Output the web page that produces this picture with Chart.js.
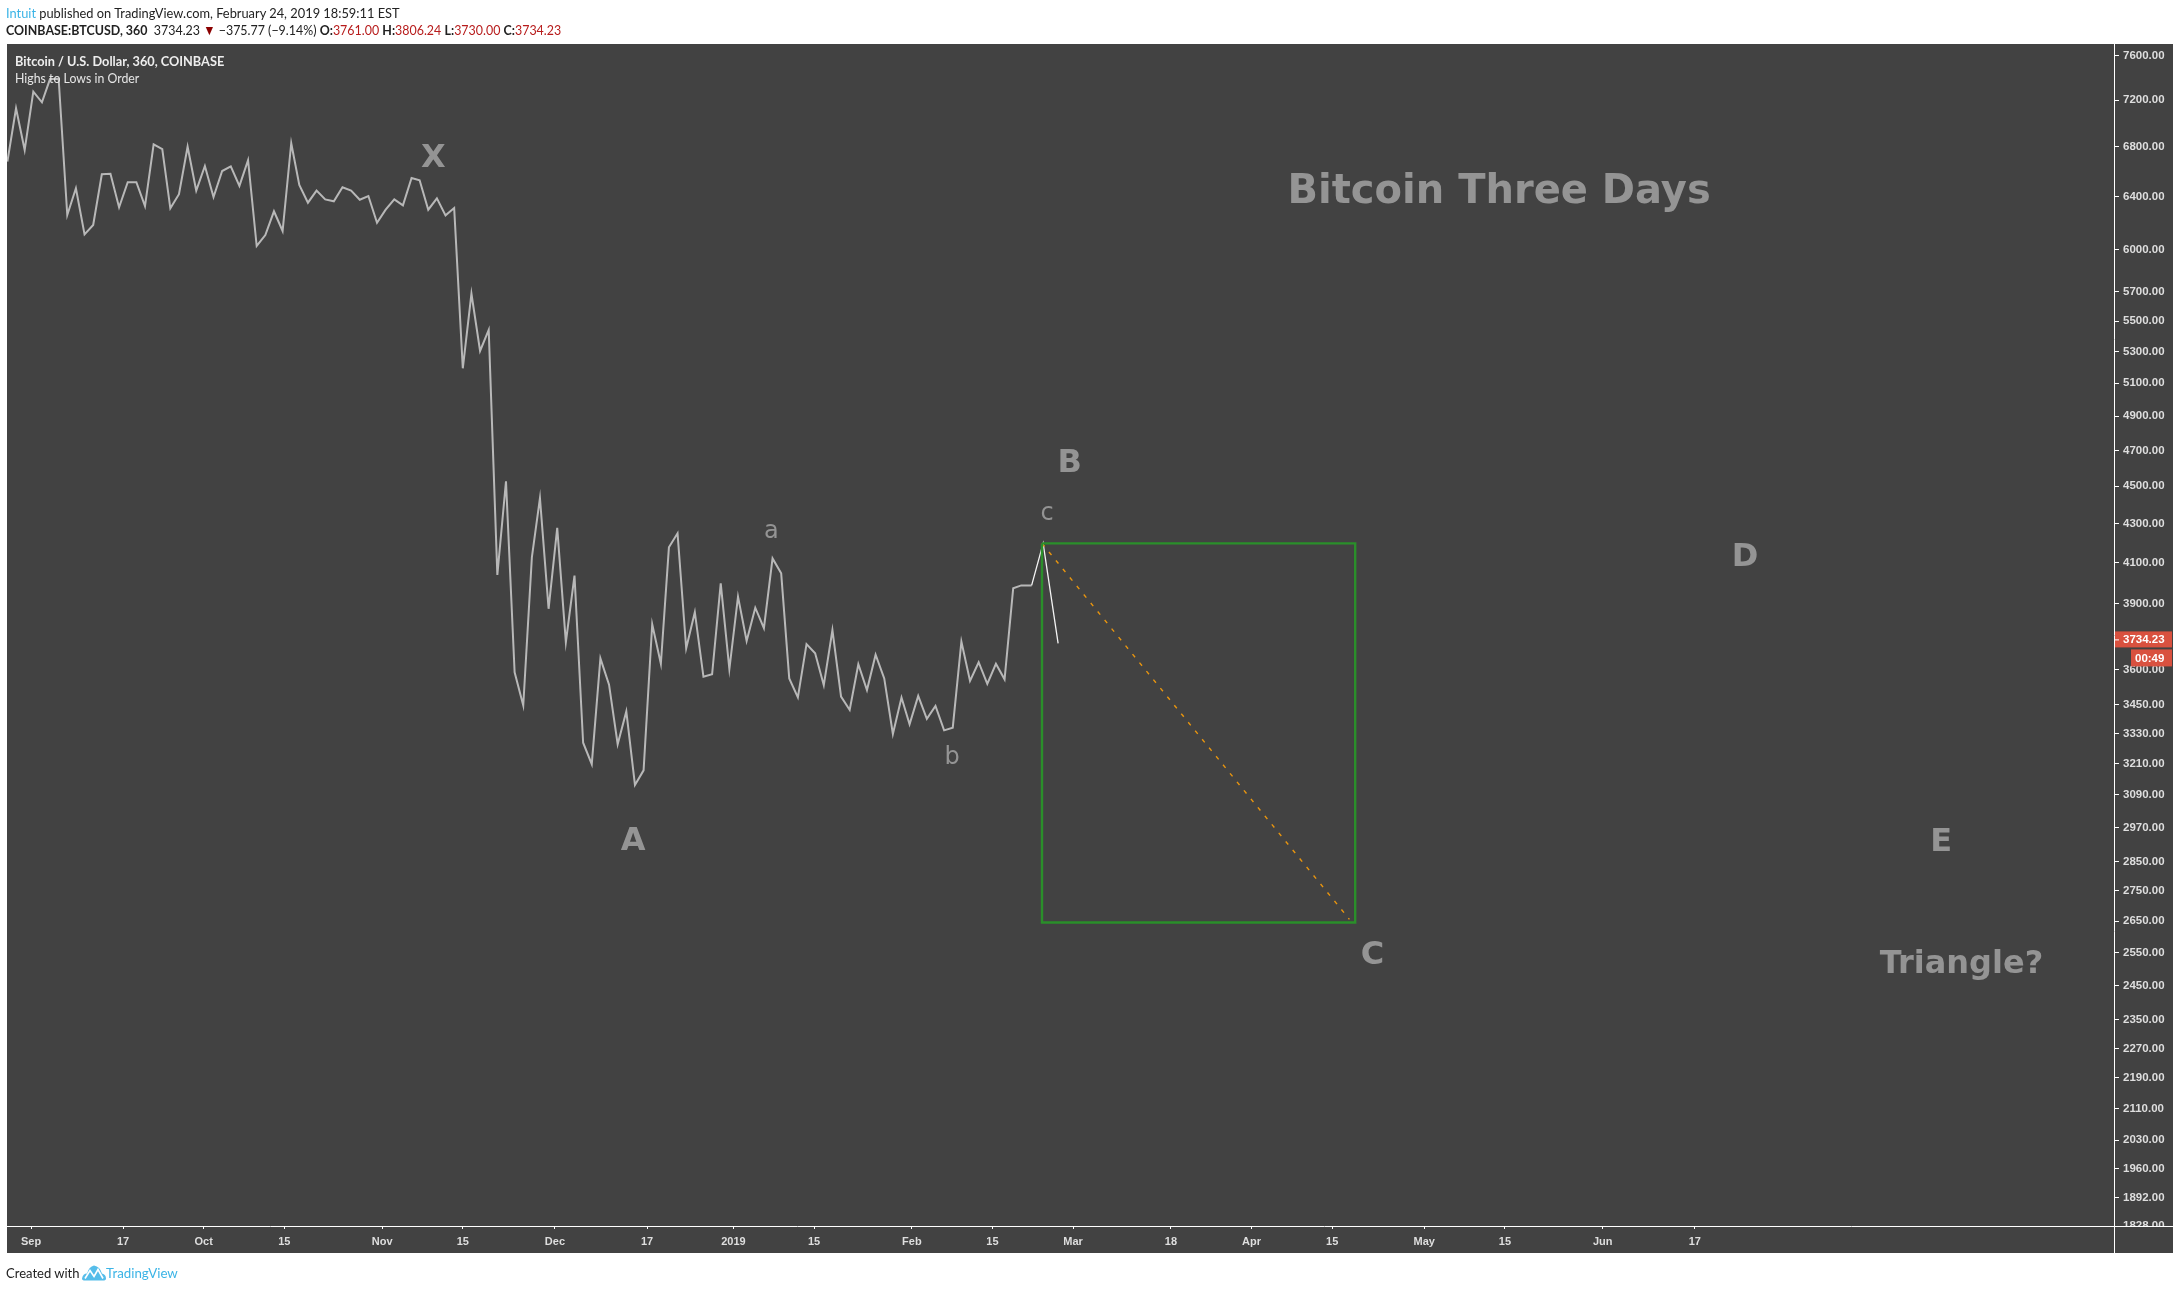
<!DOCTYPE html>
<html>
<head>
<meta charset="utf-8">
<title>Bitcoin Three Days</title>
<script src="https://cdn.jsdelivr.net/npm/chart.js@4/dist/chart.umd.min.js"></script>
<style>
    html, body { margin: 0; padding: 0; background: #fff; }
    body { position: relative; width: 2173px; height: 1290px; overflow: hidden; }
    #chart { position: absolute; left: 0; top: 0; }
    .txt { position: absolute; white-space: nowrap; font-family: Lato, sans-serif; color: #222; transform-origin: left center; }
    .blue { color: #3bb4e6; }
    .red { color: #b71c1c; }
    .bold { font-weight: bold; }
</style>
</head>
<body>
<canvas id="chart" width="2173" height="1290"></canvas>

<div class="txt" style="left:6px;top:4px;font-size:14px;transform:scaleX(.916)"><span class="blue">Intuit</span> published on TradingView.com, February 24, 2019 18:59:11 EST</div>
<div class="txt" style="left:6px;top:21px;font-size:14px;transform:scaleX(.888)"><span class="bold">COINBASE:BTCUSD, 360</span>&nbsp; 3734.23 <span style="color:#8b0000">▼</span> −375.77 (−9.14%) <span class="bold">O:</span><span class="red">3761.00</span> <span class="bold">H:</span><span class="red">3806.24</span> <span class="bold">L:</span><span class="red">3730.00</span> <span class="bold">C:</span><span class="red">3734.23</span></div>
<div class="txt bold" style="left:15px;top:52px;font-size:14px;color:#eee;transform:scaleX(.91)">Bitcoin / U.S. Dollar, 360, COINBASE</div>
<div class="txt" style="left:15px;top:69px;font-size:14px;color:#e6e6e6;transform:scaleX(.88)">Highs to Lows in Order</div>
<div class="txt" style="left:6px;top:1264px;font-size:14px;transform:scaleX(.93)">Created with</div>
<svg style="position:absolute;left:82px;top:1264px" width="24" height="17" viewBox="0 0 24 16">
    <path d="M0 14 Q1 9 5 9 Q7 2 12 1 Q18 2 20 9 Q24 10 24 14 Q24 16 21 16 L3 16 Q0 16 0 14Z" fill="#55bdea"/>
    <path d="M3 14 L8 6 L12 12 L16 5 L21 14" fill="none" stroke="#fff" stroke-width="1.6"/>
</svg>
<div class="txt blue" style="left:106px;top:1264px;font-size:14px;transform:scaleX(.95)">TradingView</div>

<script>
// days are counted from Sep 1 2018
const pointDays = [
    -4.1, -2.6, -1.1, 0.4, 1.9, 3.3, 4.8, 6.3, 7.8, 9.3, 10.8, 12.3, 13.8, 15.3, 16.8, 18.3,
    19.8, 21.3, 22.8, 24.2, 25.7, 27.2, 28.7, 30.2, 31.7, 33.2, 34.7, 36.2, 37.7, 39.2, 40.7, 42.2,
    43.7, 45.2, 46.6, 48.1, 49.6, 51.1, 52.6, 54.1, 55.6, 57.1, 58.6, 60.1, 61.6, 63.1, 64.6, 66.1,
    67.5, 69.0, 70.5, 72.0, 73.5, 75.0, 76.5, 78.0, 79.5, 81.0, 82.5, 84.0, 85.5, 87.0, 88.4, 89.9,
    91.4, 92.9, 94.4, 95.9, 97.4, 98.9, 100.4, 101.9, 103.4, 104.9, 106.4, 107.9, 109.4, 110.8, 112.3, 113.8,
    115.3, 116.8, 118.3, 119.8, 121.3, 122.8, 124.3, 125.8, 127.3, 128.8, 130.3, 131.7, 133.2, 134.7, 136.2, 137.7,
    139.2, 140.7, 142.2, 143.7, 145.2, 146.7, 148.2, 149.7, 151.2, 152.6, 154.1, 155.6, 157.1, 158.6, 160.1, 161.6,
    163.1, 164.6, 166.1, 167.6, 169.1, 170.6, 172.0, 173.8, 175.8, 178.4
];
const pointPrices = [
    6680, 7128, 6775, 7274, 7180, 7386, 7386, 6260, 6467, 6114, 6184, 6578, 6582, 6318, 6514, 6514,
    6328, 6822, 6783, 6311, 6420, 6802, 6448, 6644, 6398, 6604, 6642, 6485, 6692, 6028, 6109, 6288,
    6139, 6831, 6493, 6354, 6448, 6380, 6365, 6474, 6448, 6377, 6406, 6201, 6300, 6380, 6334, 6548,
    6530, 6300, 6388, 6257, 6313, 5194, 5688, 5305, 5443, 4039, 4527, 3588, 3446, 4128, 4435, 3876,
    4277, 3722, 4036, 3293, 3208, 3649, 3534, 3287, 3421, 3128, 3184, 3804, 3625, 4177, 4249, 3694,
    3860, 3568, 3579, 3998, 3602, 3934, 3727, 3881, 3786, 4121, 4047, 3561, 3480, 3713, 3672, 3532,
    3777, 3483, 3427, 3623, 3511, 3665, 3561, 3328, 3479, 3368, 3486, 3390, 3444, 3343, 3354, 3724,
    3550, 3632, 3537, 3625, 3557, 3974, 3988, 3988, 4197, 3716
];

const priceTicks = [
    7600, 7200, 6800, 6400, 6000, 5700, 5500, 5300, 5100, 4900, 4700, 4500, 4300, 4100, 3900,
    3600, 3450, 3330, 3210, 3090, 2970, 2850, 2750, 2650, 2550, 2450, 2350, 2270, 2190, 2110,
    2030, 1960, 1892, 1828
];
const dayTicks = [0, 16, 30, 44, 61, 75, 91, 107, 122, 136, 153, 167, 181, 198, 212, 226, 242, 256, 273, 289];
const dayLabels = ["Sep", "17", "Oct", "15", "Nov", "15", "Dec", "17", "2019", "15", "Feb", "15", "Mar", "18", "Apr", "15", "May", "15", "Jun", "17"];

const boxDays = [175.6, 230, 230, 175.6, 175.6];
const boxPrices = [4197, 4197, 2646, 2646, 4197];
const diagonalDays = [175.6, 229];
const diagonalPrices = [4197, 2656];

const noteTexts = ["Bitcoin Three Days", "X", "A", "B", "C", "D", "E", "Triangle?", "a", "b", "c"];
const noteDays = [255, 69.9, 104.6, 180.4, 233, 297.7, 331.8, 335.3, 128.6, 160, 176.5];
const notePrices = [6349, 6639, 2890, 4578, 2516, 4082, 2885, 2489, 4226, 3209, 4319];
const noteFonts = ["bold 40px", "bold 32px", "bold 32px", "bold 32px", "bold 32px", "bold 32px", "bold 32px", "bold 32px", "24px", "24px", "24px"];

const lastPrice = 3734.23;
const lastPriceLabel = "3734.23";
const countdownLabel = "00:49";

const PANEL = "#424242";

const chartPanel = {
    id: "chartPanel",
    beforeDraw(chart) {
        const ctx = chart.ctx;
        ctx.save();
        ctx.fillStyle = PANEL;
        ctx.fillRect(7, 44, 2166, 1209);
        ctx.restore();
    },
    afterDatasetsDraw(chart) {
        const ctx = chart.ctx;
        const area = chart.chartArea;
        const y = chart.scales.y;
        ctx.save();

        // price labels get cut off by the time axis strip
        ctx.fillStyle = PANEL;
        ctx.fillRect(area.left, area.bottom, 2173 - area.left, 1253 - area.bottom);
        ctx.strokeStyle = "#fff";
        ctx.lineWidth = 1;
        ctx.beginPath();
        ctx.moveTo(area.right + 0.5, area.bottom);
        ctx.lineTo(area.right + 0.5, 1253);
        ctx.moveTo(area.right, area.bottom + 0.5);
        ctx.lineTo(2173, area.bottom + 0.5);
        ctx.stroke();

        // annotations
        ctx.fillStyle = "#949494";
        ctx.textAlign = "center";
        ctx.textBaseline = "alphabetic";
        noteTexts.forEach((t, i) => {
            ctx.font = noteFonts[i] + ' "DejaVu Sans"';
            ctx.fillText(t, chart.scales.x.getPixelForValue(noteDays[i]), y.getPixelForValue(notePrices[i]));
        });

        // last price and countdown tags
        const py = y.getPixelForValue(lastPrice);
        ctx.fillStyle = "#d9513f";
        ctx.fillRect(area.right + 1, py - 8, 57, 16);
        ctx.fillRect(area.right + 17, py + 10, 41, 17);
        ctx.strokeStyle = "#fff";
        ctx.beginPath();
        ctx.moveTo(area.right, py + 0.5);
        ctx.lineTo(area.right + 5, py + 0.5);
        ctx.stroke();
        ctx.fillStyle = "#fff";
        ctx.font = 'bold 11.5px "Liberation Sans"';
        ctx.textBaseline = "middle";
        ctx.textAlign = "left";
        ctx.fillText(lastPriceLabel, area.right + 9, py + 0.5);
        ctx.fillText(countdownLabel, area.right + 21, py + 19);
        ctx.restore();
    }
};

const lastIndex = pointPrices.length - 1;

new Chart(document.getElementById("chart").getContext("2d"), {
    type: "line",
    data: {
        datasets: [
            {
                label: "Box",
                data: boxDays.map((d, i) => ({ x: d, y: boxPrices[i] })),
                borderColor: "#2a8f2a",
                borderWidth: 2.4,
                pointRadius: 0,
                tension: 0
            },
            {
                label: "Diagonal",
                data: diagonalDays.map((d, i) => ({ x: d, y: diagonalPrices[i] })),
                borderColor: "#e8950f",
                borderWidth: 1.4,
                borderDash: [4, 7],
                pointRadius: 0,
                tension: 0
            },
            {
                label: "BTCUSD",
                data: pointDays.map((d, i) => ({ x: d, y: pointPrices[i] })),
                borderColor: "#b8b8b8",
                borderWidth: 2,
                borderJoinStyle: "miter",
                pointRadius: 0,
                tension: 0,
                segment: {
                    borderColor: c => c.p1DataIndex >= lastIndex - 1 ? "#f4f4f4" : undefined,
                    borderWidth: c => c.p1DataIndex >= lastIndex - 1 ? 1.3 : undefined
                }
            }
        ]
    },
    options: {
        responsive: false,
        animation: false,
        devicePixelRatio: 1,
        layout: { padding: { left: 7, top: 44, right: 0, bottom: 0 } },
        plugins: {
            legend: { display: false },
            title: { display: false },
            tooltip: { enabled: false }
        },
        scales: {
            x: {
                type: "linear",
                bounds: "data",
                min: -4.17,
                max: 361.8,
                afterFit: s => { s.height = 64; },
                afterBuildTicks: s => { s.ticks = dayTicks.map(v => ({ value: v })); },
                grid: { drawOnChartArea: false, drawTicks: true, tickLength: 3, tickColor: "#fff", z: 1 },
                border: { color: "#fff", width: 1, z: 1 },
                ticks: {
                    z: 1,
                    autoSkip: false,
                    maxRotation: 0,
                    padding: 6,
                    color: "#dedede",
                    font: { family: "Liberation Sans", size: 11, weight: "bold" },
                    callback: v => dayLabels[dayTicks.indexOf(v)]
                }
            },
            y: {
                type: "logarithmic",
                position: "right",
                bounds: "data",
                min: 1828.6,
                max: 7708,
                afterFit: s => { s.width = 59; },
                afterBuildTicks: s => { s.ticks = priceTicks.map(v => ({ value: v })); },
                grid: { drawOnChartArea: false, drawTicks: true, tickLength: 5, tickColor: "#fff" },
                border: { color: "#fff", width: 1 },
                ticks: {
                    autoSkip: false,
                    padding: 4,
                    color: "#dedede",
                    font: { family: "Liberation Sans", size: 11.5, weight: "bold" },
                    callback: v => Number(v).toFixed(2)
                }
            }
        }
    },
    plugins: [chartPanel]
});
</script>
</body>
</html>
